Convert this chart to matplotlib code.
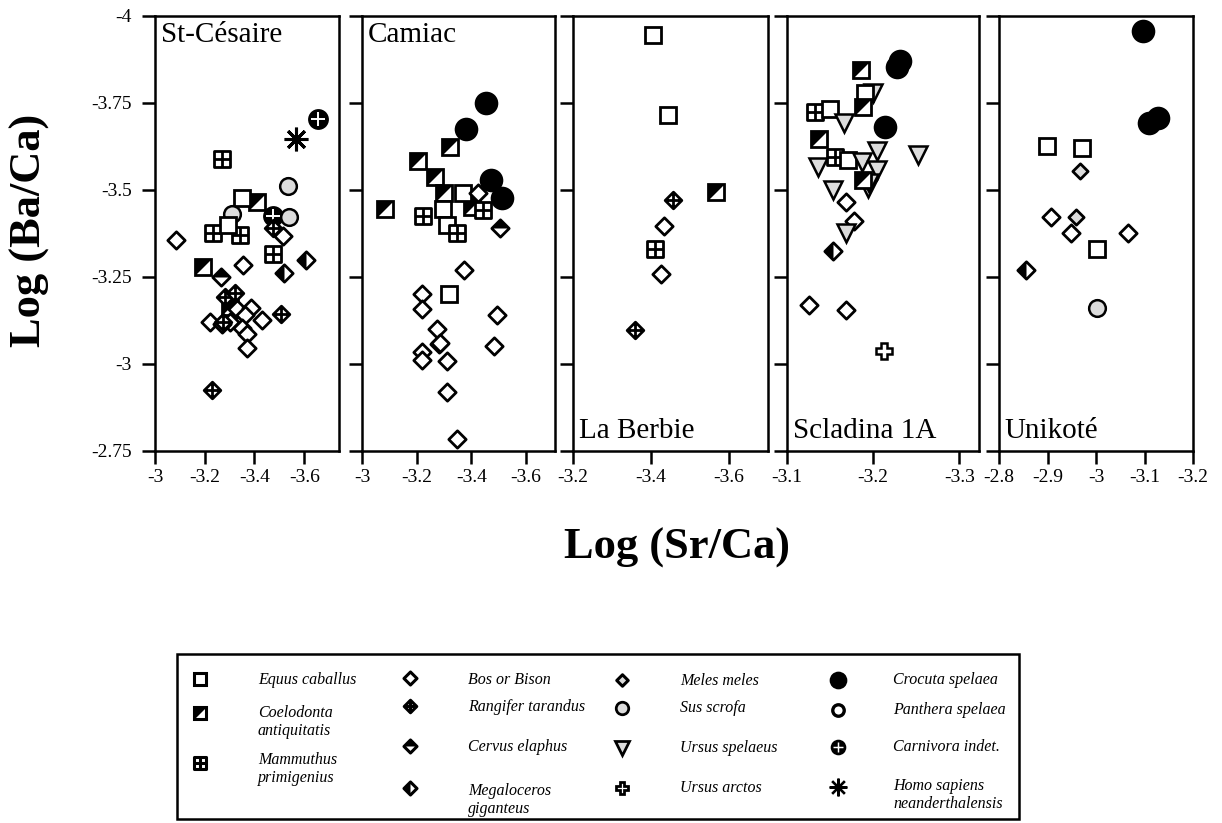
import matplotlib.pyplot as plt
from matplotlib.path import Path
from matplotlib.patches import Rectangle

plt.rcParams['font.family'] = ['Liberation Serif', 'DejaVu Serif']

# ---- data: Log(Sr/Ca) (x) and Log(Ba/Ca) (y) per site ----
stc_sp = ['bos', 'coel', 'equus', 'mamm', 'mamm', 'mamm', 'mamm', 'sus', 'equus', 'coel',
          'carn', 'sus', 'sus', 'carn', 'homo', 'bos', 'rang', 'coel', 'cerv', 'meg', 'meg',
          'rang', 'rang', 'rang', 'rang', 'bos', 'bos', 'bos', 'bos', 'bos', 'bos', 'bos',
          'bos', 'bos', 'bos', 'bos', 'rang']
stc_sr = [-3.084, -3.412, -3.348, -3.268, -3.232, -3.340, -3.476, -3.308, -3.292, -3.300,
          -3.476, -3.540, -3.536, -3.656, -3.568, -3.516, -3.476, -3.192, -3.264, -3.520, -3.608,
          -3.280, -3.320, -3.508, -3.228, -3.352, -3.220, -3.300, -3.328, -3.388, -3.360, -3.432,
          -3.348, -3.368, -3.372, -3.270, -3.272]
stc_ba = [-3.354, -3.465, -3.475, -3.589, -3.376, -3.369, -3.316, -3.430, -3.397, -3.161,
          -3.424, -3.421, -3.510, -3.703, -3.645, -3.367, -3.390, -3.276, -3.248, -3.259, -3.296,
          -3.190, -3.204, -3.141, -2.924, -3.284, -3.119, -3.119, -3.157, -3.160, -3.139, -3.125,
          -3.102, -3.085, -3.044, -3.113, -3.120]

cam_sp = ['crocuta', 'crocuta', 'coel', 'coel', 'coel', 'coel', 'coel', 'coel', 'equus', 'equus',
          'bos', 'crocuta', 'crocuta', 'mamm', 'mamm', 'equus', 'mamm', 'cerv', 'bos', 'equus',
          'bos', 'bos', 'bos', 'bos', 'bos', 'bos', 'bos', 'bos', 'bos', 'bos', 'bos', 'bos']
cam_sr = [-3.454, -3.381, -3.322, -3.205, -3.267, -3.300, -3.084, -3.403, -3.370, -3.297,
          -3.425, -3.473, -3.513, -3.223, -3.443, -3.311, -3.348, -3.505, -3.374, -3.319,
          -3.220, -3.220, -3.275, -3.282, -3.220, -3.220, -3.311, -3.311, -3.348, -3.495, -3.484,
          -3.285]
cam_ba = [-3.750, -3.674, -3.622, -3.582, -3.535, -3.489, -3.443, -3.449, -3.491, -3.445,
          -3.491, -3.527, -3.475, -3.425, -3.440, -3.397, -3.374, -3.388, -3.270, -3.199,
          -3.201, -3.158, -3.098, -3.055, -3.032, -3.009, -3.006, -2.917, -2.782, -3.139, -3.050,
          -3.060]

lab_sp = ['equus', 'equus', 'coel', 'rang', 'bos', 'mamm', 'bos', 'rang']
lab_sr = [-3.405, -3.444, -3.567, -3.456, -3.433, -3.410, -3.426, -3.359]
lab_ba = [-3.944, -3.714, -3.492, -3.471, -3.395, -3.330, -3.256, -3.096]

scl_sp = ['crocuta', 'crocuta', 'coel', 'ursp', 'equus', 'coel', 'mamm', 'equus', 'ursp', 'crocuta',
          'coel', 'ursp', 'ursp', 'ursp', 'mamm', 'equus', 'ursp', 'ursp', 'ursp', 'ursp', 'ursp',
          'coel', 'bos', 'bos', 'ursp', 'meg', 'bos', 'bos', 'urar']
scl_sr = [-3.228, -3.231, -3.186, -3.200, -3.191, -3.188, -3.133, -3.150, -3.166, -3.214,
          -3.137, -3.205, -3.252, -3.136, -3.156, -3.171, -3.187, -3.205, -3.153, -3.194, -3.195,
          -3.188, -3.169, -3.178, -3.169, -3.153, -3.126, -3.169, -3.213]
scl_ba = [-3.852, -3.869, -3.842, -3.777, -3.777, -3.738, -3.723, -3.731, -3.690, -3.679,
          -3.644, -3.612, -3.598, -3.565, -3.592, -3.584, -3.578, -3.555, -3.500, -3.504, -3.520,
          -3.527, -3.463, -3.410, -3.374, -3.322, -3.168, -3.153, -3.035]

uni_sp = ['crocuta', 'crocuta', 'crocuta', 'equus', 'equus', 'meles', 'bos', 'meles', 'bos', 'bos',
          'equus', 'meg', 'sus']
uni_sr = [-3.097, -3.109, -3.128, -2.899, -2.971, -2.967, -2.907, -2.959, -2.948, -3.066,
          -3.002, -2.856, -3.002]
uni_ba = [-3.955, -3.691, -3.705, -3.625, -3.619, -3.553, -3.421, -3.421, -3.375, -3.375,
          -3.328, -3.268, -3.159]

sites = ['St-Césaire', 'Camiac', 'La Berbie', 'Scladina 1A', 'Unikoté']
site_sp = [stc_sp, cam_sp, lab_sp, scl_sp, uni_sp]
site_sr = [stc_sr, cam_sr, lab_sr, scl_sr, uni_sr]
site_ba = [stc_ba, cam_ba, lab_ba, scl_ba, uni_ba]

x_limits = [(-3, -3.74), (-3, -3.706), (-3.2, -3.7), (-3.1, -3.323), (-2.8, -3.2)]
x_ticks = [[-3, -3.2, -3.4, -3.6], [-3, -3.2, -3.4, -3.6], [-3.2, -3.4, -3.6],
           [-3.1, -3.2, -3.3], [-2.8, -2.9, -3, -3.1, -3.2]]
y_ticks = [-4, -3.75, -3.5, -3.25, -3, -2.75]

legend_cols = [
    [('equus', 'Equus caballus'), ('coel', 'Coelodonta\nantiquitatis'),
     ('mamm', 'Mammuthus\nprimigenius')],
    [('bos', 'Bos or Bison'), ('rang', 'Rangifer tarandus'), ('cerv', 'Cervus elaphus'),
     ('meg', 'Megaloceros\ngiganteus')],
    [('meles', 'Meles meles'), ('sus', 'Sus scrofa'), ('ursp', 'Ursus spelaeus'),
     ('urar', 'Ursus arctos')],
    [('crocuta', 'Crocuta spelaea'), ('panth', 'Panthera spelaea'), ('carn', 'Carnivora indet.'),
     ('homo', 'Homo sapiens\nneanderthalensis')],
]

# ---- marker shapes ----
sq_cross = Path([(-1, -1), (1, -1), (1, 1), (-1, 1), (-1, -1), (0, -1), (0, 1), (-1, 0), (1, 0)],
                [1, 2, 2, 2, 79, 1, 2, 1, 2])
dia = Path([(0, -1), (1, 0), (0, 1), (-1, 0), (0, -1)], [1, 2, 2, 2, 79])
dia_cross = Path([(0, -1), (1, 0), (0, 1), (-1, 0), (0, -1), (0, -1), (0, 1), (-1, 0), (1, 0)],
                 [1, 2, 2, 2, 79, 1, 2, 1, 2])
dia_top = Path([(-1, 0), (0, 1), (1, 0), (-1, 0)], [1, 2, 2, 79])
dia_left = Path([(0, -1), (-1, 0), (0, 1), (0, -1)], [1, 2, 2, 79])
ul_tri = Path([(-1, 1), (1, 1), (-1, -1), (-1, 1)], [1, 2, 2, 79])
grey = '#dcdcdc'


def mark(ax, sp, x, y, k=1.0, w=1.0, z=3):
    kw = dict(linestyle='none', markeredgecolor='k', zorder=z, clip_on=False)
    lw = 2.0 * w
    if sp == 'equus':
        ax.plot(x, y, 's', ms=12 * k, mfc='white', mew=lw, **kw)
    elif sp == 'coel':
        ax.plot(x, y, 's', ms=12 * k, mfc='white', mew=lw, **kw)
        ax.plot(x, y, marker=ul_tri, ms=11 * k, mfc='k', mew=0, **kw)
    elif sp == 'mamm':
        ax.plot(x, y, marker=sq_cross, ms=11.5 * k, mfc='white', mew=lw, **kw)
    elif sp == 'bos':
        ax.plot(x, y, marker=dia, ms=12.5 * k, mfc='white', mew=lw, **kw)
    elif sp == 'rang':
        ax.plot(x, y, marker=dia_cross, ms=12 * k, mfc='white', mew=lw, **kw)
    elif sp in ('cerv', 'meg'):
        half = dia_top if sp == 'cerv' else dia_left
        ax.plot(x, y, marker=dia, ms=12.5 * k, mfc='white', mew=lw, **kw)
        ax.plot(x, y, marker=half, ms=12.5 * k, mfc='k', mew=0, **kw)
    elif sp == 'meles':
        ax.plot(x, y, marker=dia, ms=11 * k, mfc=grey, mew=lw, **kw)
    elif sp == 'sus':
        ax.plot(x, y, 'o', ms=12 * k, mfc=grey, mew=lw * 0.9, **kw)
    elif sp == 'ursp':
        ax.plot(x, y, 'v', ms=13 * k, mfc=grey, mew=lw * 0.9, **kw)
    elif sp == 'urar':
        ax.plot(x, y, 'P', ms=11 * k, mfc='white', mew=lw * 0.9, **kw)
    elif sp == 'crocuta':
        ax.plot(x, y, 'o', ms=17 * k, mfc='k', mew=0, **kw)
    elif sp == 'panth':
        ax.plot(x, y, 'o', ms=11 * k, mfc='white', mew=3.2 * k, **kw)
    elif sp == 'carn':
        ax.plot(x, y, 'o', ms=15 * k, mfc='k', mew=0, **kw)
        kw['markeredgecolor'] = 'white'
        ax.plot(x, y, '+', ms=10 * k, mew=1.4 * k, **kw)
    elif sp == 'homo':
        ax.plot(x, y, marker=(8, 2, 0), ms=17 * k, mew=2.2 * k, **kw)


W, H = 1222, 823
fig = plt.figure(figsize=(W / 100, H / 100), dpi=100)

panel_px = [(155, 339), (362, 555), (573, 768), (787, 979), (999, 1193)]
top_px, bot_px = 15.5, 450.5

for i, (l, r) in enumerate(panel_px):
    ax = fig.add_axes([l / W, 1 - bot_px / H, (r - l) / W, (bot_px - top_px) / H])
    for sp, x, y in zip(site_sp[i], site_sr[i], site_ba[i]):
        mark(ax, sp, x, y)
    ax.set_xlim(*x_limits[i])
    ax.set_ylim(-2.75, -4)
    ax.set_xticks(x_ticks[i])
    ax.set_xticklabels([f'{v:g}' for v in x_ticks[i]])
    ax.set_yticks(y_ticks)
    if i == 0:
        ax.set_yticklabels([f'{v:g}' for v in y_ticks])
    else:
        ax.set_yticklabels([])
    ax.tick_params(direction='out', length=9.5, width=1.8, labelsize=14, pad=4)
    ax.tick_params(axis='y', pad=7)
    for s in ax.spines.values():
        s.set_linewidth(1.8)
    if i < 2:
        ax.text(0.03, 0.985, sites[i], transform=ax.transAxes, fontsize=21, va='top', ha='left')
    else:
        ax.text(0.03, 0.015, sites[i], transform=ax.transAxes, fontsize=21, va='bottom', ha='left')

fig.text(30 / W, 1 - 230 / H, 'Log (Ba/Ca)', rotation=90, fontsize=32, fontweight='bold',
         ha='center', va='center')
fig.text(677 / W, 1 - 548 / H, 'Log (Sr/Ca)', fontsize=32, fontweight='bold',
         ha='center', va='center')

# ---- legend box (pixel coordinates) ----
lax = fig.add_axes([0, 0, 1, 1], zorder=-1)
lax.set_xlim(0, W)
lax.set_ylim(H, 0)
lax.axis('off')
lax.add_patch(Rectangle((177, 654), 842, 165, fill=False, lw=1.8, ec='k'))

col_mx = [200, 410, 622, 838]
col_tx = [258, 468, 680, 893]
row_y = [[679, 713, 763], [678, 706, 746, 788], [680, 708, 748, 788], [680, 710, 747, 787]]
text_y = [[680, 722, 769], [680, 707, 747, 800], [681, 708, 748, 788], [680, 710, 747, 795]]
for c, entries in enumerate(legend_cols):
    for j, (sp, name) in enumerate(entries):
        mark(lax, sp, col_mx[c], row_y[c][j], k=0.75, w=1.1)
        lax.text(col_tx[c], text_y[c][j], name, fontsize=11.5, style='italic',
                 ha='left', va='center', linespacing=1.1)

fig.savefig('out.png', dpi=100)
